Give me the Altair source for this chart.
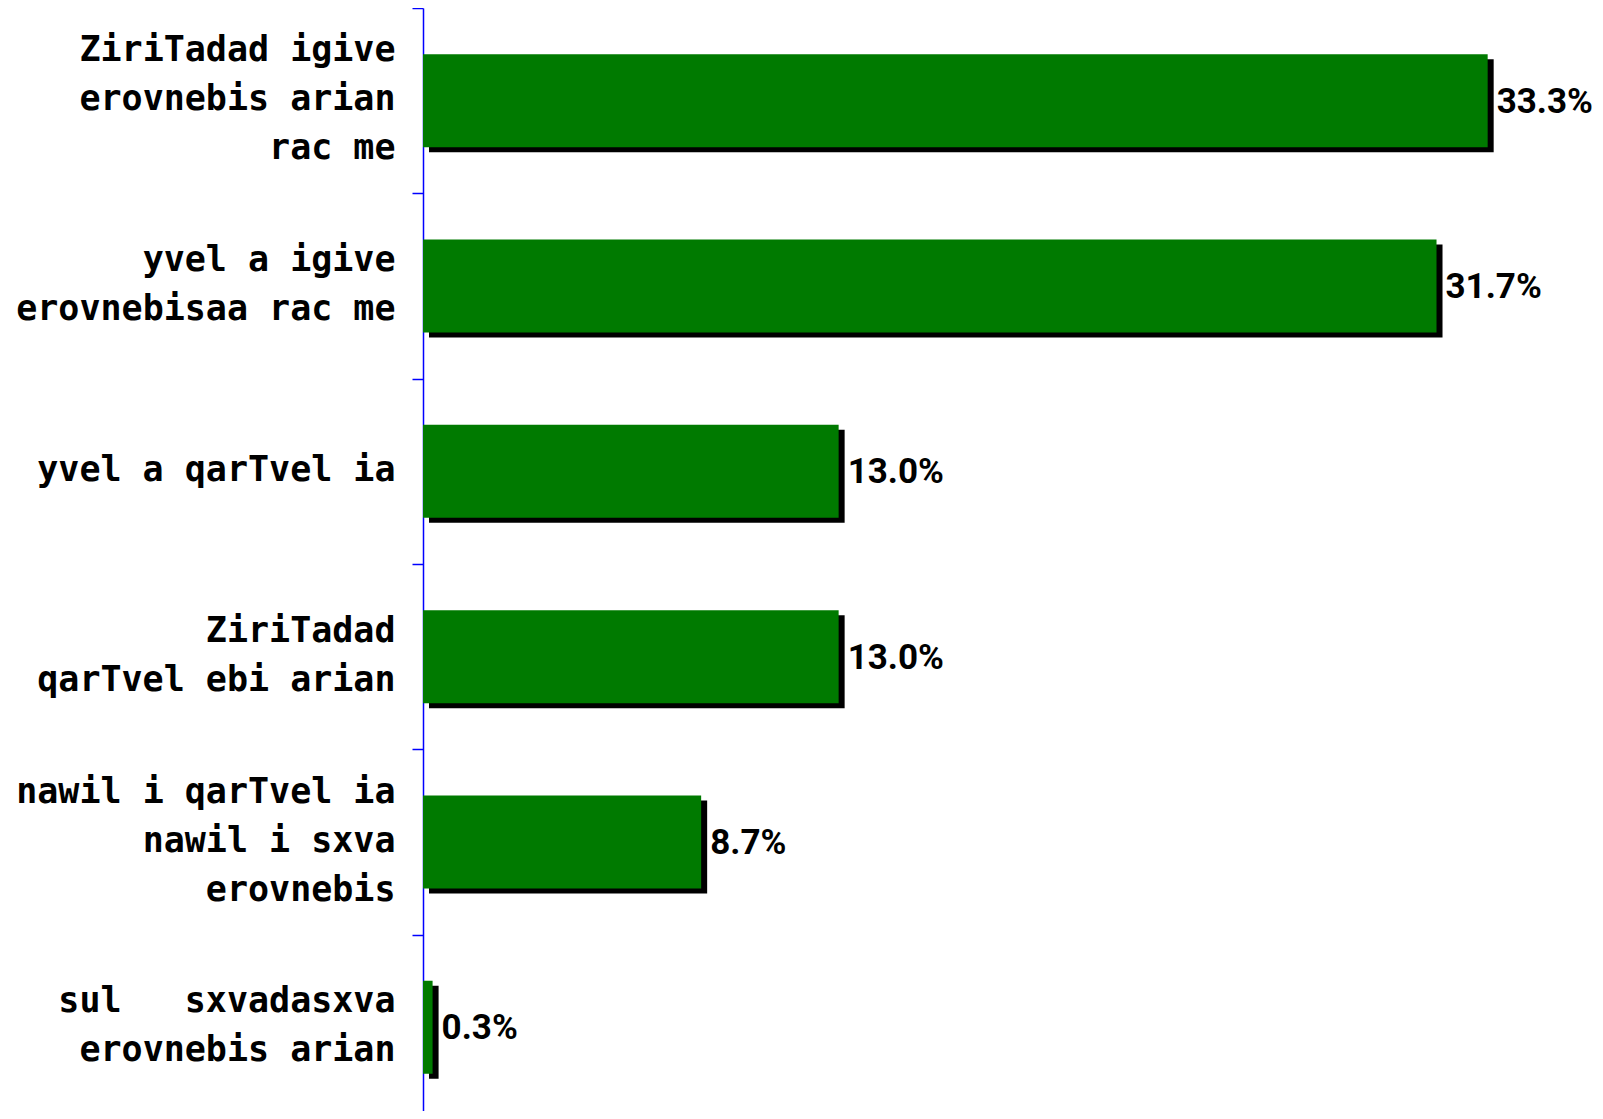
import altair as alt
import pandas as pd

NB = "\u00a0"
categories = [
    "ZiriTadad igive|erovnebis arian|rac me",
    "yvel a igive|erovnebisaa rac me",
    "yvel a qarTvel ia",
    "ZiriTadad|qarTvel ebi arian",
    "nawil i qarTvel ia|nawil i sxva|erovnebis",
    "sul" + NB + NB + NB + "sxvadasxva|erovnebis arian",
]
values = [33.3, 31.7, 13.0, 13.0, 8.7, 0.3]
value_labels = ["33.3%", "31.7%", "13.0%", "13.0%", "8.7%", "0.3%"]

df = pd.DataFrame({"cat": categories, "val": values, "lbl": value_labels})

LINE_H = 49

y_enc = alt.Y(
    "cat:N",
    sort=None,
    scale=alt.Scale(paddingInner=0, paddingOuter=0, range=[0, 1112]),
    axis=alt.Axis(
        title=None,
        domainColor="#0000FF",
        domainWidth=1.5,
        tickColor="#0000FF",
        tickWidth=1.5,
        tickSize=11,
        tickBand="extent",
        labelPadding=17,
        labelFont="DejaVu Sans Mono",
        labelFontSize=35,
        labelFontWeight="bold",
        labelColor="#000000",
        labelLineHeight=LINE_H,
        labelExpr="split(datum.label, '|')",
        labelOffset={"expr": f"-(length(split(datum.value, '|')) - 1) * {LINE_H / 2} - 2"},
        grid=False,
        labelLimit=0,
    ),
)
x_enc = alt.X("val:Q", scale=alt.Scale(domain=[0, 36]), axis=None)

base = alt.Chart(df)

shadow = base.mark_bar(
    color="#000000", size=93, xOffset=6, x2Offset=6, yOffset=5, y2Offset=5
).encode(x=x_enc, y=y_enc)

bars = base.mark_bar(color="#007A00", size=93).encode(x=x_enc, y=y_enc)

text = base.mark_text(
    align="left",
    baseline="middle",
    dx=9,
    dy=1,
    font="Roboto",
    fontSize=35,
    fontWeight="bold",
    color="#000000",
).encode(x=x_enc, y=y_enc, text="lbl:N")

chart = (
    alt.layer(shadow, bars, text)
    .properties(
        width=1151,
        height=1103,
        autosize=alt.AutoSizeParams(type="none"),
        padding={"left": 415, "top": 0, "right": 21, "bottom": 0},
        background="#FFFFFF",
    )
    .configure_view(stroke=None)
)

chart.save("out.html", embed_options={"renderer": "svg", "actions": False})
